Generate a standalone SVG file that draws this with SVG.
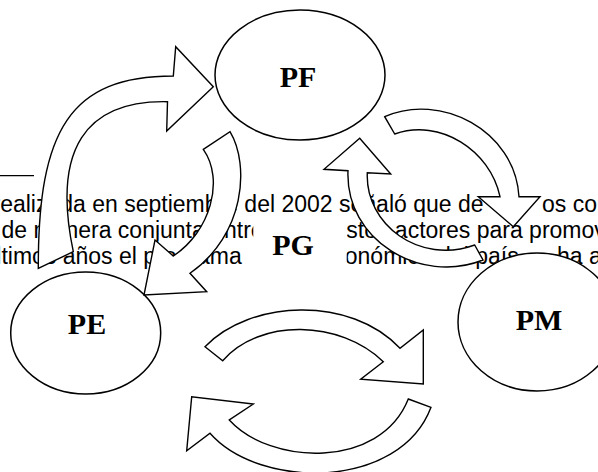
<svg xmlns="http://www.w3.org/2000/svg" width="598" height="472" viewBox="0 0 598 472">
<style>
.bg{font-family:"Liberation Sans",Arial,sans-serif;font-size:23px;fill:#000}
.lbl{font-family:"Liberation Serif","Times New Roman",serif;font-size:30px;font-weight:bold;fill:#000;text-anchor:middle}
.node{fill:#fff;stroke:#000;stroke-width:1.5}
.arr{fill:#fff;stroke:#000;stroke-width:1.4;stroke-linejoin:miter}
</style>
<rect width="598" height="472" fill="#fff"/>
<g id="background-text">
<line x1="0" y1="175.7" x2="34" y2="175.7" stroke="#000" stroke-width="1.2"/>
<text class="bg" x="-7.5" y="212">realizada en septiembre del 2002 señaló que de</text>
<text class="bg" x="542" y="212">os con</text>
<text class="bg" x="1.5" y="238">de manera conjunta entre</text>
<text class="bg" x="333.5" y="238">estos actores para promov</text>
<text class="bg" x="-16.5" y="264">últimos años el programa</text>
<text class="bg" x="320.5" y="264">económico del país</text>
<text class="bg" x="557" y="264">ha a</text>
</g>
<g id="PG">
<rect x="253.3" y="216" width="93.4" height="56" fill="#fff"/>
<text class="lbl" x="293" y="255">PG</text>
</g>
<g id="PF">
<ellipse class="node" cx="300" cy="75" rx="85" ry="65"/>
<text class="lbl" x="298" y="86.7">PF</text>
</g>
<g id="PE">
<ellipse class="node" cx="85.7" cy="333" rx="75" ry="61"/>
<text class="lbl" x="87" y="334">PE</text>
</g>
<g id="PM">
<ellipse class="node" cx="537" cy="322" rx="79" ry="69"/>
<text class="lbl" x="539" y="330">PM</text>
</g>
<g id="connectors">
<path class="arr" d="M38.3,268.3 C38,130 70,76 173.3,76 L175.7,46.7 L213.3,86.7 L166.7,131 L167.5,101.7 C85,100 52,150 73.3,251.7 Z"/>
<path class="arr" d="M203.3,149.3 L230,131.7 C250,165 245,235 190,273.3 L206.7,291.7 L144,295 L155,240 L173.3,256 C210,232 225,180 203.3,149.3 Z"/>
<path class="arr" d="M384.7,116.7 C440,92 515,130 519,196.7 L540,196.7 L513.3,226.7 L478.3,196.7 L500,196.7 C490,150 440,118 394.7,134 Z"/>
<path class="arr" d="M359.7,138.3 L390.7,174 L367.3,172.7 C365,225 420,265 474.7,245 L483,260 C420,285 345,240 348,170.7 L324,169.3 Z"/>
<path class="arr" d="M205,346.7 C250,300 350,295 400,348.3 L423.3,330 L423.3,384 L360.7,379.3 L383.3,361.7 C340,320 260,318 222.7,360.7 Z"/>
<path class="arr" d="M431,407.3 C400,490 260,490 210,433.3 L186.7,450.7 L191.7,396.7 L253.3,404 L229.3,420 C270,465 380,470 408.3,399 Z"/>
</g>
</svg>
